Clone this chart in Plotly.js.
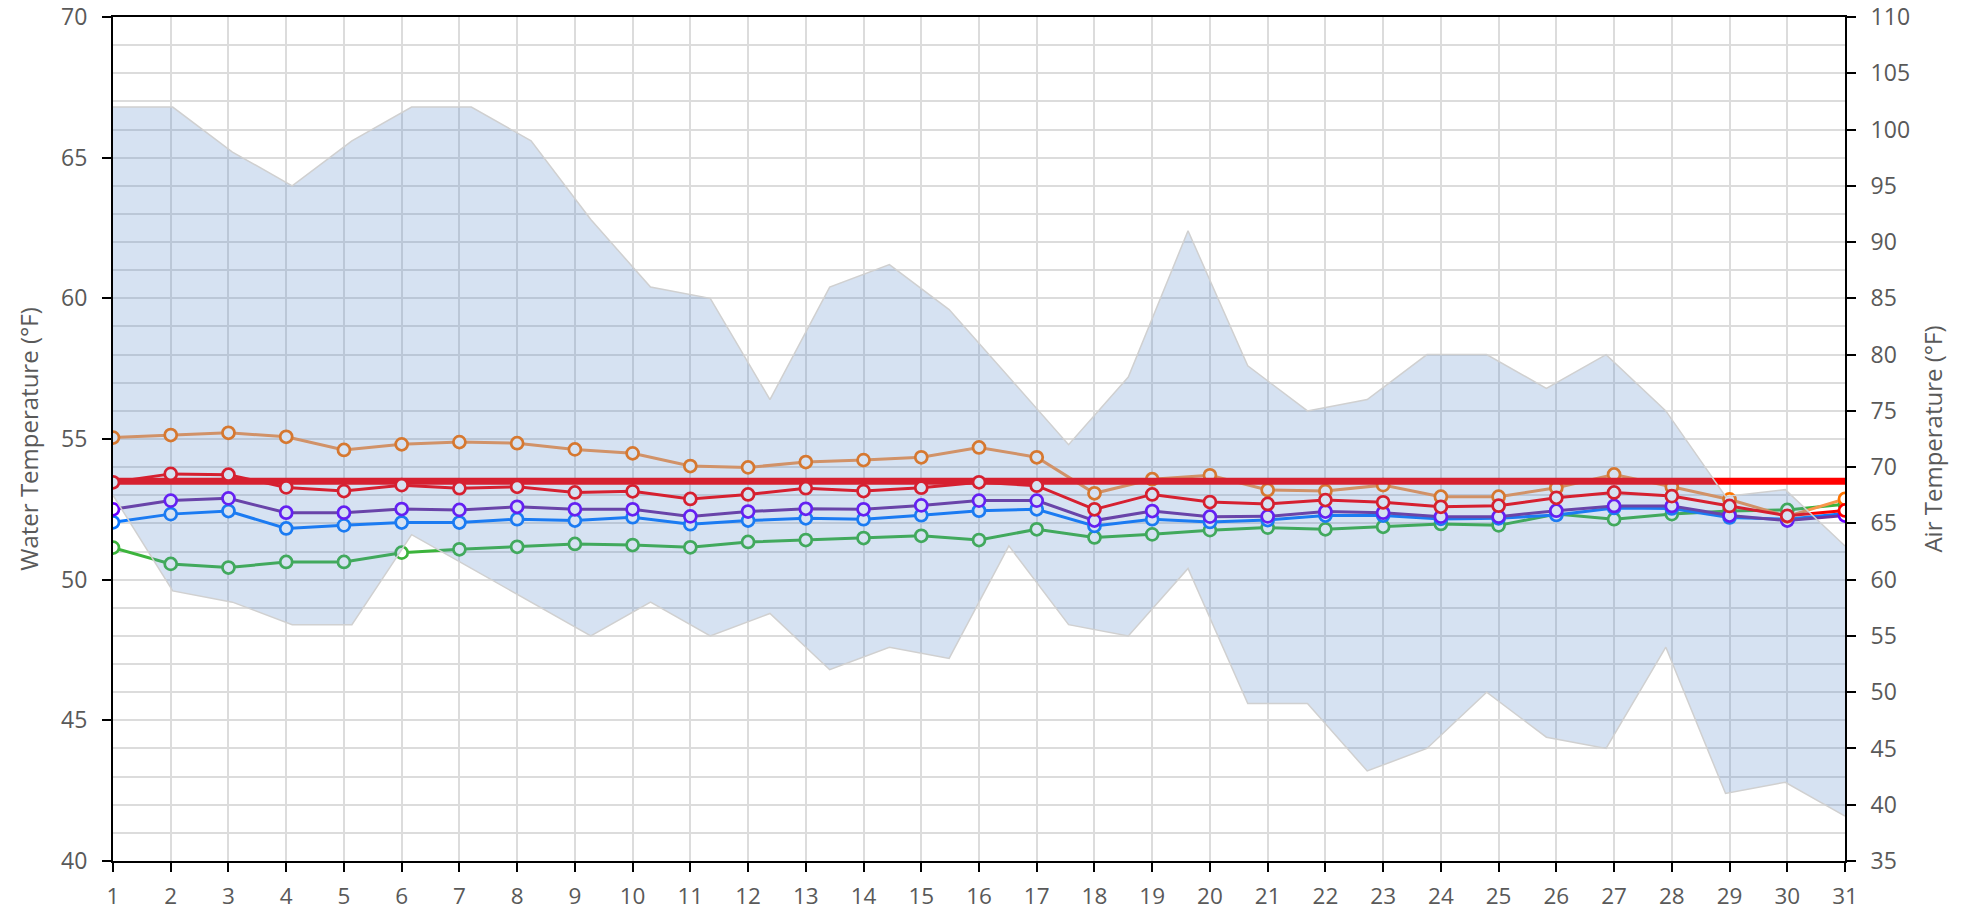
<!DOCTYPE html>
<html>
<head>
<meta charset="utf-8">
<script src="https://cdn.plot.ly/plotly-3.0.1.min.js"></script>
<style>html,body{margin:0;padding:0;background:#fff;}#chart{width:1971px;height:912px;}</style>
</head>
<body>
<div id="chart"></div>
<script>
// ---- data ----
const days = [1,2,3,4,5,6,7,8,9,10,11,12,13,14,15,16,17,18,19,20,21,22,23,24,25,26,27,28,29,30,31];
const waterOrange = [55.05,55.14,55.22,55.08,54.61,54.81,54.89,54.85,54.63,54.49,54.04,53.99,54.18,54.25,54.35,54.70,54.35,53.07,53.57,53.71,53.19,53.15,53.36,52.95,52.95,53.27,53.74,53.30,52.85,52.25,52.87];
const waterRed    = [53.46,53.76,53.73,53.28,53.15,53.36,53.25,53.30,53.10,53.14,52.87,53.03,53.25,53.15,53.27,53.46,53.34,52.50,53.03,52.76,52.69,52.83,52.75,52.59,52.63,52.91,53.10,52.97,52.62,52.27,52.46];
const waterPurple = [52.50,52.81,52.89,52.38,52.38,52.51,52.48,52.59,52.50,52.50,52.25,52.42,52.52,52.50,52.64,52.81,52.81,52.10,52.44,52.24,52.25,52.42,52.38,52.24,52.24,52.45,52.62,52.62,52.28,52.10,52.28];
const waterBlue   = [52.04,52.33,52.44,51.82,51.93,52.03,52.03,52.15,52.10,52.22,51.97,52.10,52.18,52.15,52.29,52.45,52.50,51.91,52.15,52.05,52.12,52.28,52.28,52.16,52.18,52.30,52.55,52.53,52.21,52.15,52.35];
const waterGreen  = [51.14,50.56,50.43,50.63,50.63,50.96,51.08,51.17,51.27,51.23,51.15,51.34,51.41,51.48,51.56,51.41,51.79,51.50,51.61,51.76,51.85,51.79,51.88,51.98,51.93,52.33,52.15,52.33,52.44,52.48,52.68];
const targetTemp = 53.5;
// air temperature readings (30 readings spread over the month)
const airIndex = [1,2,3,4,5,6,7,8,9,10,11,12,13,14,15,16,17,18,19,20,21,22,23,24,25,26,27,28,29,30];
const airMax = [102,102,98,95,99,102,102,99,92,86,85,76,86,88,84,78,72,78,91,79,75,76,80,80,77,80,75,67.4,68,63];
const airMin = [67.5,59,58,56,56,64,61,58,55,58,55,57,52,54,53,63,56,55,61,49,49,43,45,50,46,45,54,41,42,39];

const FONT = '"Open Sans", "Liberation Sans", sans-serif';
const GRID = '#dcdcdc';
const TXT = '#595959';

function series(y, lineColor, markerColor) {
  return {
    x: days, y: y, type: 'scatter', mode: 'lines+markers',
    xaxis: 'x', yaxis: 'y',
    line: {color: lineColor, width: 3},
    marker: {symbol: 'circle', size: 12, color: '#ffffff', line: {color: markerColor, width: 2.75}},
    hoverinfo: 'x+y'
  };
}

const traces = [
  {x: airIndex, y: airMin, type: 'scatter', mode: 'lines', xaxis: 'x2', yaxis: 'y2',
   line: {color: '#d0d0d0', width: 1.5}, hoverinfo: 'y', name: 'Air min'},
  {x: airIndex, y: airMax, type: 'scatter', mode: 'lines', xaxis: 'x2', yaxis: 'y2',
   fill: 'tonexty', fillcolor: 'rgba(84,134,200,0.24)',
   line: {color: '#d0d0d0', width: 1.5}, hoverinfo: 'y', name: 'Air max'},
  series(waterGreen, '#3cb43c', '#3cb43c'),
  series(waterBlue, '#0a78ff', '#0a78ff'),
  series(waterPurple, '#7030a0', '#6a00ff'),
  series(waterOrange, '#f9964a', '#ff7400'),
  {x: [days[0], days[days.length-1]], y: [targetTemp, targetTemp], type: 'scatter', mode: 'lines',
   xaxis: 'x', yaxis: 'y', line: {color: '#ff0000', width: 7}, hoverinfo: 'y'},
  series(waterRed, '#ff0000', '#ff0000')
];

const layout = {
  width: 1971, height: 912, autosize: false,
  margin: {l: 113, r: 126, t: 17, b: 51, pad: 0},
  paper_bgcolor: '#ffffff', plot_bgcolor: '#ffffff',
  showlegend: false,
  font: {family: FONT, color: TXT, size: 23},
  xaxis: {
    range: [1, 31], tickmode: 'array', tickvals: days, ticktext: days.map(String),
    showgrid: true, gridcolor: GRID, gridwidth: 2, zeroline: false,
    showline: true, linecolor: '#000000', linewidth: 2, mirror: true,
    ticks: 'outside', ticklen: 9, tickwidth: 2, tickcolor: '#000000',
    tickfont: {family: FONT, size: 22.5, color: TXT}, ticklabelstandoff: 5,
    fixedrange: true
  },
  xaxis2: {range: [1, 30], overlaying: 'x', visible: false, fixedrange: true},
  yaxis: {
    range: [40, 70], dtick: 5, tick0: 40,
    showgrid: true, gridcolor: GRID, gridwidth: 2, zeroline: false,
    minor: {dtick: 1, showgrid: true, gridcolor: GRID, gridwidth: 2, ticks: ''},
    showline: true, linecolor: '#000000', linewidth: 2,
    ticks: 'outside', ticklen: 9, tickwidth: 2, tickcolor: '#000000',
    tickfont: {family: FONT, size: 23, color: TXT}, ticklabelstandoff: 10,
    title: {text: 'Water Temperature (°F)', font: {family: FONT, size: 24, color: TXT}, standoff: 16},
    fixedrange: true
  },
  yaxis2: {
    range: [35, 110], dtick: 5, tick0: 35, overlaying: 'y', side: 'right', anchor: 'x',
    showgrid: false, zeroline: false,
    showline: true, linecolor: '#000000', linewidth: 2,
    ticks: 'outside', ticklen: 9, tickwidth: 2, tickcolor: '#000000',
    tickfont: {family: FONT, size: 23, color: TXT}, ticklabelstandoff: 10,
    title: {text: 'Air Temperature (°F)', font: {family: FONT, size: 24, color: TXT}, standoff: 16},
    fixedrange: true
  }
};

Plotly.newPlot('chart', traces, layout, {displayModeBar: false});
</script>
</body>
</html>
